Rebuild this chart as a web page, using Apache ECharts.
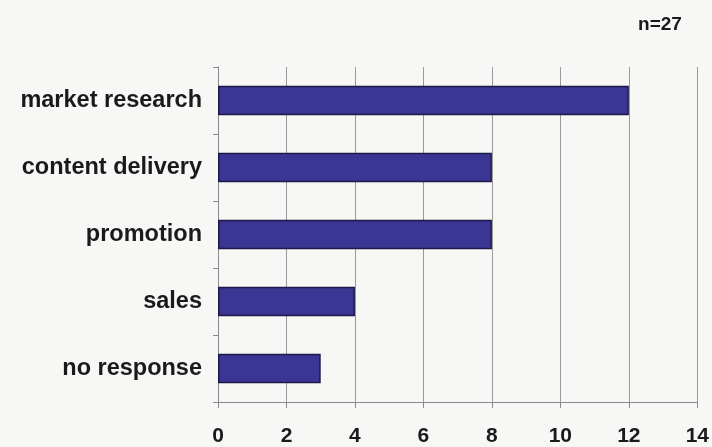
<!DOCTYPE html>
<html>
<head>
<meta charset="utf-8">
<script src="https://cdn.jsdelivr.net/npm/echarts@6/dist/echarts.min.js"></script>
<style>
html,body{margin:0;padding:0;background:#f7f7f5;}
#chart{width:712px;height:447px;}
</style>
</head>
<body>
<div id="chart"></div>
<script>
// Survey responses by purpose (n=27)
const categories = ['market research', 'content delivery', 'promotion', 'sales', 'no response'];
const counts = [12, 8, 8, 4, 3];
const xTicks = [0, 2, 4, 6, 8, 10, 12, 14];
const sampleNote = 'n=27';

const chart = echarts.init(document.getElementById('chart'));
chart.setOption({
  backgroundColor: '#f7f7f5',
  animation: false,
  title: {
    text: sampleNote,
    left: 655, top: 10, textAlign: 'center',
    textStyle: { fontFamily: 'Liberation Sans', fontWeight: 'bold', fontSize: 19, color: '#1a1a1a' }
  },
  grid: { left: 218, right: 14, top: 67, bottom: 45, containLabel: false },
  xAxis: {
    type: 'value',
    min: xTicks[0], max: xTicks[xTicks.length - 1], interval: 2,
    axisLine: { show: true, lineStyle: { color: '#8a8a8a', width: 1 } },
    axisTick: { show: true, length: 6, lineStyle: { color: '#8a8a8a' } },
    splitLine: { show: true, lineStyle: { color: '#9a9a9a', width: 1 } },
    axisLabel: {
      margin: 24,
      fontFamily: 'Liberation Sans', fontWeight: 'bold', fontSize: 21, color: '#1a1a1a'
    }
  },
  yAxis: {
    type: 'category',
    data: categories,
    inverse: true,
    axisLine: { show: true, lineStyle: { color: '#8a8a8a', width: 1 } },
    axisTick: { show: true, length: 5, lineStyle: { color: '#8a8a8a' } },
    axisLabel: {
      margin: 16,
      fontFamily: 'Liberation Sans', fontWeight: 'bold', fontSize: 23.5, color: '#1a1a1a'
    }
  },
  series: [{
    type: 'bar',
    data: counts,
    barWidth: '44%',
    itemStyle: { color: '#3b3593', borderColor: '#1c1a48', borderWidth: 1.5 }
  }]
});
</script>
</body>
</html>
